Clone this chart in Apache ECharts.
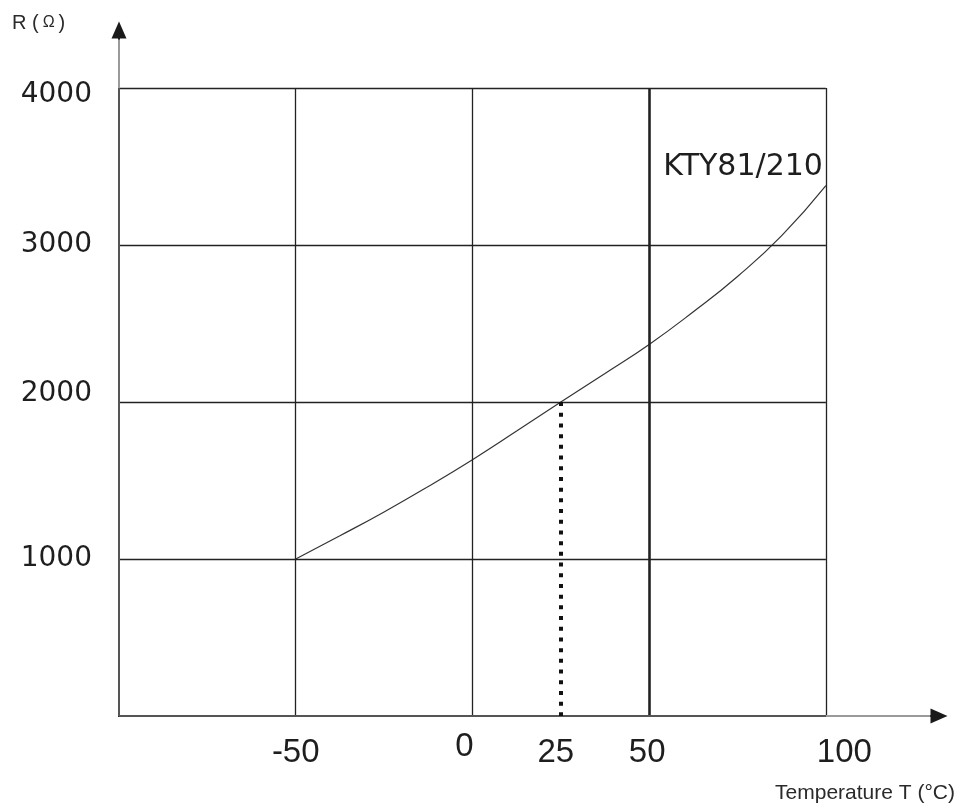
<!DOCTYPE html>
<html>
<head>
<meta charset="utf-8">
<script src="https://cdn.jsdelivr.net/npm/echarts@6/dist/echarts.min.js"></script>
<style>
html,body{margin:0;padding:0;background:#fff;}
#c{width:959px;height:807px;}
</style>
</head>
<body>
<div id="c"></div>
<script>
// ---- data ----
const temperatures = [-50, -37.5, -25, -12.5, 0, 12.5, 25, 37.5, 50, 62.5, 75, 87.5, 100];
const resistances  = [1000, 1148, 1300, 1462, 1633, 1815, 2000, 2182, 2367, 2575, 2800, 3060, 3378];
const xTickLabels = [-50, 0, 25, 50, 100];
const yTickLabels = [1000, 2000, 3000, 4000];
const xGridValues = [-50, 0, 50, 100];
const yGridValues = [1000, 2000, 3000, 4000];
const markerTemp = 25;
const markerRes = 2000;
const curveName = 'KTY81/210';
const xAxisTitle = 'Temperature T (°C)';

// ---- layout ----
const X_MIN = -100, X_END = 100, X_AXIS_MAX = 132;
const Y_MIN = 0, Y_END = 4000, Y_AXIS_MAX = 4370;

const chart = echarts.init(document.getElementById('c'), null, {renderer: 'canvas'});

const seriesData = temperatures.map((t, i) => [t, resistances[i]]);

const gridLine = {color: '#222', width: 1.3, type: 'solid'};
const markLines = [];
xGridValues.forEach(x => {
  markLines.push([
    {coord: [x, Y_MIN], lineStyle: Object.assign({}, gridLine, x === 50 ? {width: 2.6} : {})},
    {coord: [x, Y_END]}
  ]);
});
yGridValues.forEach(y => {
  markLines.push([
    {coord: [X_MIN, y], lineStyle: gridLine},
    {coord: [X_END, y]}
  ]);
});
// inner axis segments (darker) and their light extensions
markLines.push([{coord: [X_MIN, Y_MIN], lineStyle: {color: '#555', width: 2, type: 'solid'}}, {coord: [X_END, Y_MIN]}]);
markLines.push([{coord: [X_MIN, Y_MIN], lineStyle: {color: '#555', width: 2, type: 'solid'}}, {coord: [X_MIN, Y_END]}]);
markLines.push([{coord: [X_END, Y_MIN], lineStyle: {color: '#9a9a9a', width: 2, type: 'solid'}}, {coord: [129.5, Y_MIN]}]);
markLines.push([{coord: [X_MIN, Y_END], lineStyle: {color: '#9a9a9a', width: 2, type: 'solid'}}, {coord: [X_MIN, 4310]}]);
// dotted marker line at 25 °C
markLines.push([
  {coord: [markerTemp, markerRes], lineStyle: {color: '#111', width: 4, type: [4, 6.7], cap: 'butt'}},
  {coord: [markerTemp, Y_MIN]}
]);

const xFont = {fontFamily: '"Liberation Sans", Arial, sans-serif', fontSize: 33, color: '#1e1e1e'};
const xRich = {
  a: Object.assign({padding: [6, 0, 0, 0]}, xFont),
  b: Object.assign({padding: [0, 16, 0, 0]}, xFont),
  c: Object.assign({padding: [6, 10, 0, 0]}, xFont),
  d: Object.assign({padding: [6, 4, 0, 0]}, xFont),
  e: Object.assign({padding: [6, 0, 0, 37]}, xFont)
};
const xKeys = {'-50': 'a', '0': 'b', '25': 'c', '50': 'd', '100': 'e'};

const yFont = {fontFamily: '"DejaVu Sans", sans-serif', fontSize: 28, color: '#1e1e1e'};
const yRich = {
  n: Object.assign({}, yFont),
  t: Object.assign({padding: [14, 0, 0, 0]}, yFont),
  u: Object.assign({padding: [0, 0, 16, 0]}, yFont)
};
const yKeys = {'1000': 'n', '2000': 'u', '3000': 'n', '4000': 't'};

const option = {
  backgroundColor: '#ffffff',
  animation: false,
  grid: {left: 119, right: 20, top: 30, bottom: 91, containLabel: false, outerBoundsMode: 'none'},
  xAxis: {
    type: 'value',
    min: X_MIN, max: X_AXIS_MAX, interval: 50,
    axisLine: {show: true, onZero: false, lineStyle: {color: '#1a1a1a', width: 2}, symbol: ['none', 'triangle'], symbolSize: [15, 17]},
    axisTick: {show: false},
    splitLine: {show: false},
    axisLabel: {
      show: true,
      customValues: xTickLabels,
      margin: 14,
      formatter: v => '{' + (xKeys[String(v)] || 'a') + '|' + v + '}',
      rich: xRich,
      fontFamily: xFont.fontFamily, fontSize: xFont.fontSize, color: xFont.color
    }
  },
  yAxis: {
    type: 'value',
    min: Y_MIN, max: Y_AXIS_MAX, interval: 1000,
    axisLine: {show: true, onZero: false, lineStyle: {color: '#1a1a1a', width: 2}, symbol: ['none', 'triangle'], symbolSize: [15, 17]},
    axisTick: {show: false},
    splitLine: {show: false},
    axisLabel: {
      show: true,
      customValues: yTickLabels,
      margin: 27,
      formatter: v => '{' + (yKeys[String(v)] || 'n') + '|' + v + '}',
      rich: yRich,
      fontFamily: yFont.fontFamily, fontSize: yFont.fontSize, color: yFont.color
    }
  },
  series: [{
    name: curveName,
    type: 'line',
    data: seriesData,
    smooth: true,
    showSymbol: false,
    clip: false,
    lineStyle: {color: '#333', width: 1.2},
    endLabel: {
      show: true,
      formatter: curveName,
      fontFamily: '"DejaVu Sans", sans-serif',
      fontSize: 30,
      color: '#1e1e1e',
      align: 'right',
      verticalAlign: 'bottom',
      distance: 0,
      offset: [-3, -4]
    },
    markLine: {
      silent: true,
      symbol: ['none', 'none'],
      label: {show: false},
      animation: false,
      data: markLines
    }
  }],
  graphic: [
    {
      type: 'text', left: 12, top: 13,
      style: {
        text: '{a|R (}{b|Ω}{a|)}',
        rich: {
          a: {fontFamily: '"Liberation Sans", Arial, sans-serif', fontSize: 20, fill: '#2a2a2a'},
          b: {fontFamily: '"Liberation Sans", Arial, sans-serif', fontSize: 16, fill: '#2a2a2a', padding: [0, 4, 0, 4]}
        }
      }
    },
    {
      type: 'text', right: 4, top: 783,
      style: {
        text: xAxisTitle,
        font: '21px "Liberation Sans", Arial, sans-serif',
        fill: '#2a2a2a'
      }
    }
  ]
};

chart.setOption(option);
</script>
</body>
</html>
